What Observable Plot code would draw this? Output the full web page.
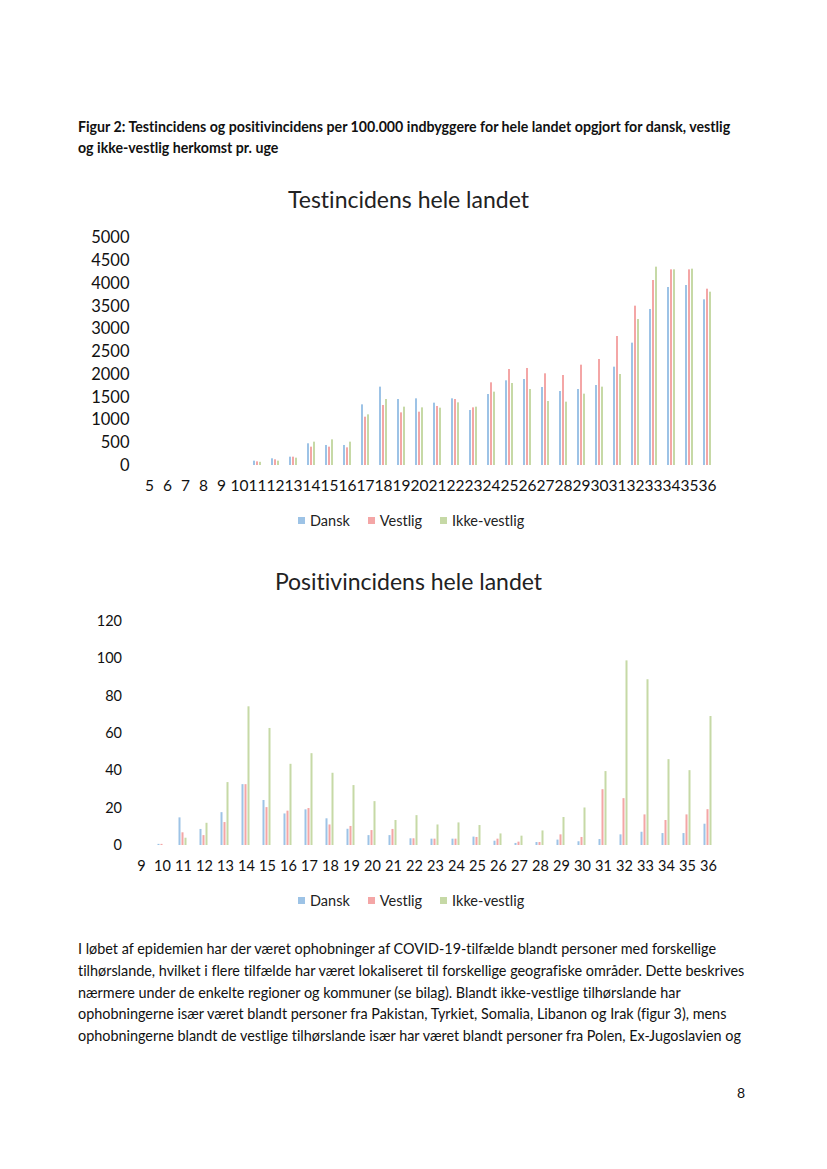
<!DOCTYPE html>
<html>
<head>
<meta charset="utf-8">
<script src="https://cdn.jsdelivr.net/npm/d3@7"></script>
<script src="https://cdn.jsdelivr.net/npm/@observablehq/plot@0.6"></script>
<style>
  html, body { margin: 0; padding: 0; background: #fff; }
  #page { position: relative; width: 827px; height: 1169px; background: #fff; overflow: hidden; font-family: Lato, "Open Sans", sans-serif; color: #111; font-variant-ligatures: none; }
  .abs { position: absolute; white-space: nowrap; }
  .caption { left: 78px; font-weight: bold; font-size: 14.2px; line-height: 21px; }
  .ctitle { left: 0; width: 817px; text-align: center; font-size: 23px; color: #222; }
  .legend { display: flex; align-items: center; font-size: 14.5px; color: #222; }
  .legend .item { display: flex; align-items: center; margin-right: 18px; }
  .legend .sw { width: 7px; height: 7px; margin-right: 5px; }
  .body { left: 78px; font-size: 14.4px; line-height: 21.6px; }
  svg text { font-variant-ligatures: none; }
</style>
</head>
<body>
<div id="page">
  <div class="abs caption" style="top:116px">Figur 2: Testincidens og positivincidens per 100.000 indbyggere for hele landet opgjort for dansk, vestlig</div>
  <div class="abs caption" style="top:137px">og ikke-vestlig herkomst pr. uge</div>

  <div class="abs ctitle" style="top:185px">Testincidens hele landet</div>
  <div id="chart1" class="abs" style="left:0; top:220px"></div>
  <div id="legend1" class="abs legend" style="left:298px; top:512px"></div>

  <div class="abs ctitle" style="top:567px">Positivincidens hele landet</div>
  <div id="chart2" class="abs" style="left:0; top:600px"></div>
  <div id="legend2" class="abs legend" style="left:298px; top:892px"></div>

  <div class="abs body" style="top:938px">I løbet af epidemien har der været ophobninger af COVID-19-tilfælde blandt personer med forskellige</div>
  <div class="abs body" style="top:960px">tilhørslande, hvilket i flere tilfælde har været lokaliseret til forskellige geografiske områder. Dette beskrives</div>
  <div class="abs body" style="top:982px">nærmere under de enkelte regioner og kommuner (se bilag). Blandt ikke-vestlige tilhørslande har</div>
  <div class="abs body" style="top:1003px">ophobningerne især været blandt personer fra Pakistan, Tyrkiet, Somalia, Libanon og Irak (figur 3), mens</div>
  <div class="abs body" style="top:1025px">ophobningerne blandt de vestlige tilhørslande især har været blandt personer fra Polen, Ex-Jugoslavien og</div>

  <div class="abs" style="left:737px; top:1084px; font-size:14px;">8</div>
</div>
<script>
// ---- Data ----
const seriesNames = ["Dansk", "Vestlig", "Ikke-vestlig"];
const seriesColors = ["#9dc3e6", "#f4a6a6", "#c6d9a6"];

// Testincidens, weeks 5..36
const testWeeks = [5,6,7,8,9,10,11,12,13,14,15,16,17,18,19,20,21,22,23,24,25,26,27,28,29,30,31,32,33,34,35,36];
const testDansk   = [0,0,0,0,0,0,95,147,183,477,440,440,1333,1722,1450,1465,1370,1465,1209,1560,1861,1890,1714,1626,1670,1758,2161,2689,3429,3912,3956,3641];
const testVestlig = [0,0,0,0,0,0,80,125,183,403,403,388,1062,1319,1157,1172,1297,1450,1267,1817,2110,2132,2015,1978,2205,2330,2835,3502,4066,4300,4300,3875];
const testIkke    = [0,0,0,0,0,0,70,95,161,513,564,513,1113,1450,1282,1267,1260,1377,1282,1612,1802,1670,1406,1392,1568,1722,2000,3209,4359,4300,4315,3809];
const testYTicks = [0,500,1000,1500,2000,2500,3000,3500,4000,4500,5000];

// Positivincidens, weeks 9..36
const posWeeks = [9,10,11,12,13,14,15,16,17,18,19,20,21,22,23,24,25,26,27,28,29,30,31,32,33,34,35,36];
const posDansk   = [0,0.6,14.8,8.6,17.6,32.6,24.1,16.9,19.1,14.3,8.7,5.3,5.3,3.6,3.4,3.4,4.5,2.3,1.1,1.6,2.9,2.0,3.2,5.7,7.1,6.4,6.4,11.4];
const posVestlig = [0,0.6,6.8,5.3,12.3,32.6,20.3,18.4,19.8,11.0,10.2,8.0,8.6,3.6,3.4,3.4,4.3,3.4,1.8,1.6,5.7,4.3,29.9,25.1,16.4,13.4,16.4,19.2];
const posIkke    = [0,0,3.9,11.9,33.7,74.3,62.7,43.5,49.2,38.7,32.1,23.5,13.4,16.0,11.0,12.1,10.7,6.2,5.0,7.8,15.0,20.1,39.6,98.9,88.8,46.0,40.1,69.1];
const posYTicks = [0,20,40,60,80,100,120];

function rows(weeks, lists) {
  const out = [];
  weeks.forEach((w, i) => {
    lists.forEach((arr, j) => out.push({week: w, series: seriesNames[j], value: arr[i]}));
  });
  return out;
}

function chart(o) {
  return Plot.plot({
    width: 827,
    height: o.height,
    marginTop: o.mt, marginBottom: o.mb, marginLeft: o.ml, marginRight: o.mr,
    style: {fontFamily: "Lato, 'Open Sans', sans-serif", fontSize: o.fs + "px", color: "#111", background: "transparent"},
    fx: {domain: o.weeks, paddingInner: o.pad, paddingOuter: o.pad / 2, label: null},
    x: {domain: seriesNames, padding: 0.2, axis: null},
    y: {domain: o.yDomain, label: null},
    color: {domain: seriesNames, range: seriesColors},
    marks: [
      Plot.barY(o.data, {fx: "week", x: "series", y: "value", fill: "series"}),
      Plot.axisY({ticks: o.yTicks, tickFormat: d => String(d), tickSize: 0, tickPadding: o.ypad, label: null, fontSize: o.yfs}),
      Plot.axisFx({anchor: "bottom", tickFormat: d => String(d), tickSize: 0, tickPadding: o.xpad, label: null, fontSize: o.fs})
    ]
  });
}

const c1 = chart({
  weeks: testWeeks, data: rows(testWeeks, [testDansk, testVestlig, testIkke]),
  yDomain: [0, 5000], yTicks: testYTicks,
  height: 275, mt: 17.5, mb: 30, ml: 139, mr: 110, pad: 0.32,
  fs: 15.5, yfs: 16.5, ypad: 14, xpad: 14
});
document.getElementById("chart1").appendChild(c1);

const c2 = chart({
  weeks: posWeeks, data: rows(posWeeks, [posDansk, posVestlig, posIkke]),
  yDomain: [0, 120], yTicks: posYTicks,
  height: 280, mt: 21, mb: 35, ml: 129.5, mr: 107.8, pad: 0.42,
  fs: 14.5, yfs: 14.5, ypad: 13.5, xpad: 15
});
document.getElementById("chart2").appendChild(c2);

function legend(id) {
  const el = document.getElementById(id);
  seriesNames.forEach((n, i) => {
    const it = document.createElement("div");
    it.className = "item";
    const sw = document.createElement("div");
    sw.className = "sw";
    sw.style.background = seriesColors[i];
    const t = document.createElement("span");
    t.textContent = n;
    it.appendChild(sw); it.appendChild(t);
    el.appendChild(it);
  });
}
legend("legend1");
legend("legend2");
</script>
</body>
</html>
